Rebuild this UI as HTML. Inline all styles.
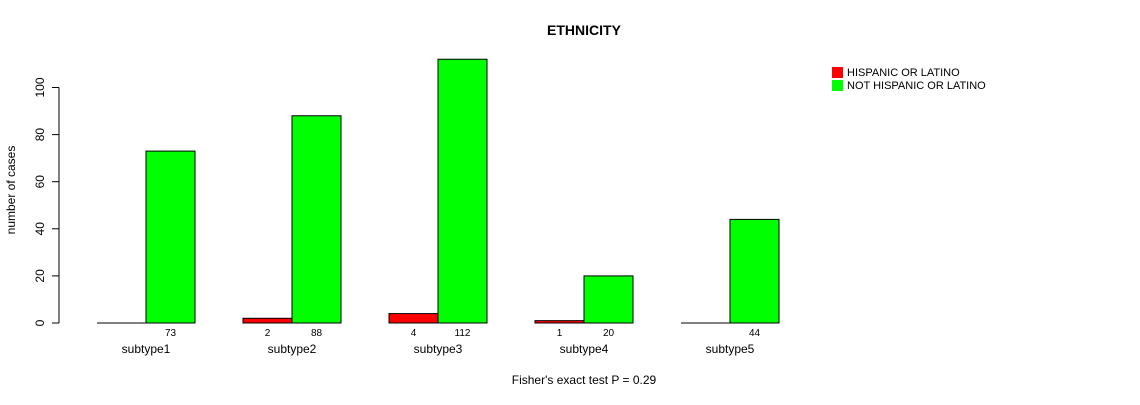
<!DOCTYPE html>
<html><head><meta charset="utf-8"><style>
body{margin:0;background:#fff}
svg text{font-family:"Liberation Sans",sans-serif;fill:#000}
</style></head><body>
<svg id="c" width="1140" height="400" xmlns="http://www.w3.org/2000/svg">
<text x="584" y="35" font-size="14" font-weight="bold" text-anchor="middle">ETHNICITY</text>
<text transform="translate(15,190) rotate(-90)" font-size="12" text-anchor="middle">number of cases</text>
<text x="584" y="384" font-size="12" text-anchor="middle">Fisher's exact test P = 0.29</text>
<g id="axis"></g>
<g id="bars"></g>
<g>
<rect x="832" y="67" width="11" height="11" fill="#ff0000"/>
<text x="847" y="76" font-size="11">HISPANIC OR LATINO</text>
<rect x="832" y="80" width="11" height="11" fill="#00ff00"/>
<text x="847" y="89" font-size="11">NOT HISPANIC OR LATINO</text>
</g>
</svg>
<script>
const categories=["subtype1","subtype2","subtype3","subtype4","subtype5"];
const hispanic=[0,2,4,1,0];
const notHispanic=[73,88,112,20,44];
const yTicks=[0,20,40,60,80,100];
const NS="http://www.w3.org/2000/svg";
const y0=323,ppu=2.355;
function y(v){return y0-v*ppu;}
function gx(i){return 97+i*146;}
const bw=49;
function mk(t,a,p){const e=document.createElementNS(NS,t);for(const k in a)e.setAttribute(k,a[k]);p.appendChild(e);return e;}
const ax=document.getElementById('axis');
mk('line',{x1:59,x2:59,y1:y(yTicks[yTicks.length-1]),y2:y(0),stroke:'#000'},ax);
yTicks.forEach(t=>{
 const l=mk('line',{x1:52,x2:59,y1:y(t),y2:y(t),stroke:'#000'},ax);
 
 
 const tx=mk('text',{transform:`translate(44,${y(t)}) rotate(-90)`,'font-size':12,'text-anchor':'middle'},ax);
 tx.textContent=t;
 
 
});
const bg=document.getElementById('bars');
function bar(x,v,fill,name){
 let e;
 if(v>0){e=mk('rect',{x:x,y:y(v),width:bw,height:v*ppu,fill:fill,stroke:'#000'},bg);}
 else{e=mk('line',{x1:x,x2:x+bw,y1:y(0),y2:y(0),stroke:'#000'},bg);}
 
 
}
categories.forEach((c,i)=>{
 const x=gx(i);
 bar(x,hispanic[i],'#ff0000','bar-hispanic-'+c);
 bar(x+bw,notHispanic[i],'#00ff00','bar-not-hispanic-'+c);
 [[hispanic[i],x+bw/2],[notHispanic[i],x+bw*1.5]].forEach(([v,cx])=>{
  if(v>0){const t=mk('text',{x:cx,y:336,'font-size':10,'text-anchor':'middle'},bg);t.textContent=v;
  
  }
 });
 const cl=mk('text',{x:x+bw,y:353,'font-size':12,'text-anchor':'middle'},bg);
 cl.textContent=c;
 
 
});
</script>
</body></html>
